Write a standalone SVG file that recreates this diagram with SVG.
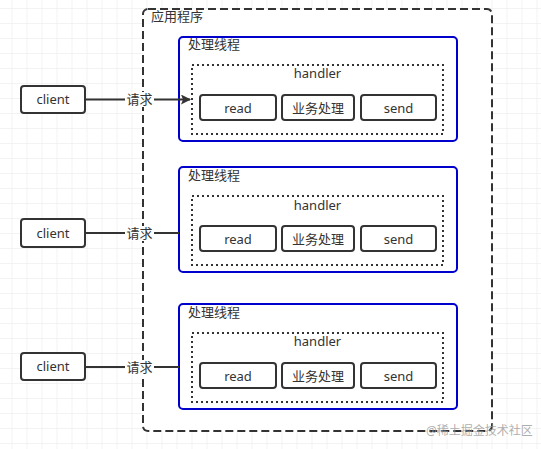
<svg xmlns="http://www.w3.org/2000/svg" width="541" height="449" viewBox="0 0 541 449">
<defs>
<pattern id="grid" patternUnits="userSpaceOnUse" x="11.5" y="8" width="15" height="15">
<path d="M0 0H15M0 0V15" fill="none" stroke="#e8e8e8" stroke-width="1"/>
</pattern>
<marker id="arr" viewBox="0 0 10 10" refX="9" refY="5" markerWidth="10" markerHeight="10" markerUnits="userSpaceOnUse" orient="auto">
<path d="M0 0L10 5L0 10L2 5Z" fill="#333"/>
</marker>
<style>
text{font-family:"Noto Sans","Noto Sans CJK SC",sans-serif;fill:#333;font-size:13px}
.c{text-anchor:middle}
.box{fill:#fff;stroke:#333;stroke-width:2}
.thread{fill:#fff;stroke:#0000cc;stroke-width:2}
.handler{fill:none;stroke:#333;stroke-width:2;stroke-dasharray:2 3}
.edge{fill:none;stroke:#333;stroke-width:2}
.lbl{fill:#fff}
</style>
</defs>
<rect width="541" height="449" fill="#fff"/>
<rect width="541" height="449" fill="url(#grid)"/>
<g id="app">
<rect x="143" y="9" width="349" height="422" rx="5" fill="#fff" stroke="#333" stroke-width="2" stroke-dasharray="8 4"/>
<text x="151" y="21">应用程序</text>
</g>
<g id="thread1">
<rect class="thread" x="179" y="37" width="278" height="104" rx="4"/>
<text x="188" y="49">处理线程</text>
</g>
<g id="handler1">
<rect class="handler" x="192" y="65" width="251" height="69"/>
<text class="c" x="317.5" y="78">handler</text>
</g>
<g id="read1"><rect class="box" x="200" y="95" width="76" height="25" rx="3"/><text class="c" x="238" y="112.5">read</text></g>
<g id="biz1"><rect class="box" x="282" y="95" width="72" height="25" rx="3"/><text class="c" x="318" y="112.5">业务处理</text></g>
<g id="send1"><rect class="box" x="361" y="95" width="75" height="25" rx="3"/><text class="c" x="398.5" y="112.5">send</text></g>
<g id="client1"><rect class="box" x="21" y="86" width="64" height="27" rx="3"/><text class="c" x="53" y="104">client</text></g>

<g id="thread2">
<rect class="thread" x="179" y="167" width="278" height="105" rx="4"/>
<text x="188" y="179.5">处理线程</text>
</g>
<g id="handler2">
<rect class="handler" x="192" y="196" width="251" height="69"/>
<text class="c" x="317.5" y="209.5">handler</text>
</g>
<g id="read2"><rect class="box" x="200" y="226" width="76" height="25" rx="3"/><text class="c" x="238" y="243.5">read</text></g>
<g id="biz2"><rect class="box" x="282" y="226" width="72" height="25" rx="3"/><text class="c" x="318" y="243.5">业务处理</text></g>
<g id="send2"><rect class="box" x="361" y="226" width="75" height="25" rx="3"/><text class="c" x="398.5" y="243.5">send</text></g>
<g id="client2"><rect class="box" x="21" y="219" width="64" height="28" rx="3"/><text class="c" x="53" y="237.5">client</text></g>

<g id="thread3">
<rect class="thread" x="179" y="304" width="278" height="105" rx="4"/>
<text x="188" y="317">处理线程</text>
</g>
<g id="handler3">
<rect class="handler" x="192" y="333" width="251" height="69"/>
<text class="c" x="317.5" y="346">handler</text>
</g>
<g id="read3"><rect class="box" x="200" y="363" width="76" height="25" rx="3"/><text class="c" x="238" y="380.5">read</text></g>
<g id="biz3"><rect class="box" x="282" y="363" width="72" height="25" rx="3"/><text class="c" x="318" y="380.5">业务处理</text></g>
<g id="send3"><rect class="box" x="361" y="363" width="75" height="25" rx="3"/><text class="c" x="398.5" y="380.5">send</text></g>
<g id="client3"><rect class="box" x="21" y="353" width="64" height="27" rx="3"/><text class="c" x="53" y="371">client</text></g>

<g id="connectors">
<path class="edge" d="M85 99.5H190" marker-end="url(#arr)"/>
<rect class="lbl" x="125" y="92" width="29" height="15"/>
<text class="c" x="139.5" y="104">请求</text>
<path class="edge" d="M85 233H179"/>
<rect class="lbl" x="125" y="226" width="29" height="15"/>
<text class="c" x="139.5" y="238">请求</text>
<path class="edge" d="M85 367H179"/>
<rect class="lbl" x="125" y="360" width="29" height="15"/>
<text class="c" x="139.5" y="372">请求</text>
</g>
<text x="426" y="434.5" style="font-size:12px;fill:#999;fill-opacity:0.8">@稀土掘金技术社区</text>
</svg>
